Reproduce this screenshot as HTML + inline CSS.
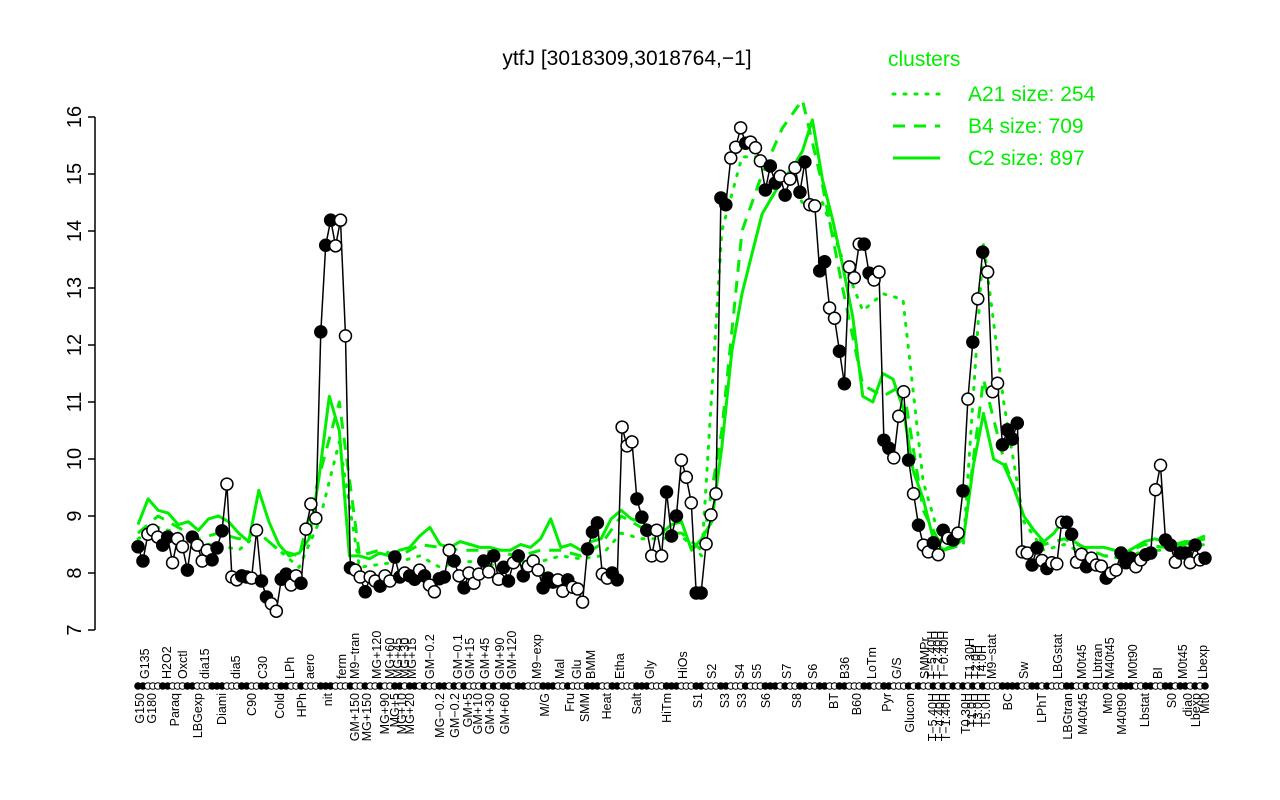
<!DOCTYPE html>
<html><head><meta charset="utf-8">
<style>
html,body{margin:0;padding:0;background:#fff;}
svg{display:block;font-family:"Liberation Sans",sans-serif;}
</style></head>
<body>
<svg id="chart" width="1280" height="800" viewBox="0 0 1280 800" xmlns="http://www.w3.org/2000/svg">
<text x="627" y="65" font-size="21" text-anchor="middle">ytfJ [3018309,3018764,−1]</text>
<g>
<text x="888" y="66" font-size="21" fill="#00ee00">clusters</text>
<line x1="893" y1="94" x2="940" y2="94" stroke="#00ee00" stroke-width="3" stroke-dasharray="2,9" stroke-linecap="round"/>
<text x="968" y="101" font-size="21" fill="#00ee00">A21 size: 254</text>
<line x1="893" y1="126" x2="940" y2="126" stroke="#00ee00" stroke-width="3" stroke-dasharray="12,9"/>
<text x="968" y="133" font-size="21" fill="#00ee00">B4 size: 709</text>
<line x1="893" y1="158" x2="940" y2="158" stroke="#00ee00" stroke-width="3"/>
<text x="968" y="165" font-size="21" fill="#00ee00">C2 size: 897</text>
</g>
<g id="yaxis"></g>
<g id="green"></g>
<g id="series"></g>
<g id="xaxis"></g>
</svg>
<script>
const yTicks = [7,8,9,10,11,12,13,14,15,16];
const geneValues = [8.46,8.21,8.68,8.75,8.63,8.49,8.63,8.18,8.6,8.46,8.05,8.63,8.49,8.21,8.4,8.23,8.44,8.74,9.56,7.93,7.88,7.95,7.93,7.91,8.75,7.86,7.58,7.46,7.33,7.89,7.98,7.79,7.95,7.82,8.77,9.21,8.96,12.23,13.75,14.19,13.74,14.19,12.16,8.09,8.05,7.93,7.67,7.93,7.86,7.77,7.95,7.86,8.28,7.93,8.0,7.95,7.89,8.05,7.95,7.79,7.67,7.9,7.93,8.4,8.21,7.95,7.74,8.0,7.82,7.98,8.21,8.02,8.3,7.89,8.1,7.86,8.18,8.3,7.95,8.12,8.21,8.05,7.74,
7.91,7.84,7.88,7.68,7.88,7.75,7.72,7.49,8.42,8.72,8.88,7.98,7.91,8.0,7.88,10.56,10.23,10.3,9.3,8.98,8.75,8.3,8.75,8.3,9.42,8.65,9.0,9.98,9.68,9.23,7.65,7.65,8.51,9.02,9.39,14.58,14.46,15.28,15.47,15.81,15.54,15.56,15.46,15.23,14.72,15.14,14.84,14.96,14.63,14.91,15.11,14.68,15.21,14.46,14.44,13.3,13.46,12.65,12.47,11.89,11.32,13.37,13.18,13.77,13.77,13.26,13.14,13.28,10.33,10.19,10.02,10.75,11.18,9.98,
9.39,8.84,8.49,8.37,8.53,8.32,8.75,8.61,8.58,8.7,9.44,11.05,12.05,12.81,13.63,13.28,11.18,11.33,10.25,10.51,10.35,10.63,8.37,8.35,8.14,8.44,8.22,8.08,8.18,8.16,8.89,8.89,8.68,8.19,8.33,8.11,8.26,8.14,8.12,7.91,8.0,8.05,8.35,8.18,8.26,8.11,8.23,8.32,8.35,9.46,9.89,8.58,8.49,8.19,8.35,8.35,8.18,8.49,8.23,8.26];
const geneFilled = [1,1,0,0,0,1,1,0,0,0,1,1,0,0,0,1,1,1,0,0,0,1,1,0,0,1,1,0,0,1,1,0,0,1,0,0,0,1,1,1,0,0,0,1,0,0,1,0,0,1,0,0,1,1,0,1,1,0,1,0,0,1,1,0,1,0,1,0,0,0,1,0,1,0,1,1,0,1,1,0,0,0,1,
1,1,0,0,1,0,0,0,1,1,1,0,0,1,1,0,0,0,1,1,1,0,0,0,1,1,1,0,0,0,1,1,0,0,0,1,1,0,0,0,1,0,0,0,1,1,1,0,1,0,0,1,1,0,0,1,1,0,0,1,1,0,0,0,1,1,0,0,1,1,0,0,0,1,
0,1,0,0,1,0,1,0,1,0,1,0,1,0,1,0,0,0,1,1,1,1,0,0,1,1,0,1,0,0,0,1,1,0,0,1,0,0,0,1,0,0,1,1,1,0,0,1,1,0,0,1,1,0,1,1,0,1,0,1];
const clusterC2 = [8.85,9.3,9.1,9.05,8.85,8.9,8.75,8.95,9.0,8.9,8.7,8.55,9.45,8.9,8.5,8.3,8.35,8.6,9.7,11.1,10.5,8.3,8.3,8.25,8.35,8.3,8.4,8.45,8.65,8.8,8.5,8.45,8.55,8.5,8.45,8.45,8.4,8.4,8.5,8.45,8.6,8.95,8.45,8.5,8.4,8.55,8.6,8.95,9.1,8.95,8.9,8.8,8.7,8.85,8.9,8.4,8.6,8.9,10.2,11.9,12.9,13.6,14.3,14.6,14.9,15.1,15.4,15.95,14.9,14.2,13.4,12.5,11.1,11.0,11.5,11.4,10.9,9.8,9.3,8.6,8.4,8.45,8.6,9.9,10.8,10.0,9.9,9.5,9.0,8.75,8.55,8.7,8.95,8.55,8.45,8.45,8.45,8.4,8.35,8.45,8.55,8.6,8.55,8.5,8.55,8.55,8.6];
const clusterB4 = [8.7,9.0,8.8,8.6,8.7,8.6,8.7,8.4,8.3,9.7,11.0,8.3,8.4,8.3,8.5,8.45,8.4,8.4,8.35,8.3,8.4,8.4,8.3,8.5,9.0,8.8,8.7,8.7,8.4,10.5,14.0,15.0,15.8,16.3,14.8,13.0,11.3,11.1,11.3,9.1,8.4,8.6,11.4,10.0,9.0,8.5,8.6,8.45,8.3,8.35,8.5,8.45,8.5,8.65];
const clusterA21 = [8.6,8.8,8.7,8.5,8.5,8.4,8.7,8.4,8.1,8.9,10.3,8.1,8.15,8.2,8.3,8.1,8.2,8.2,8.1,8.2,8.2,8.3,8.25,8.3,8.7,8.6,8.6,8.65,8.3,14.0,15.3,15.3,15.0,14.5,14.5,13.5,12.6,12.9,12.8,9.6,8.4,8.5,13.8,11.0,8.9,8.4,8.5,8.35,8.3,8.25,8.4,8.4,8.45,8.5];
const upperLabels = [["G135",145],["H2O2",167],["Oxctl",183],["dia15",205],["dia5",236],["C30",263],["LPh",290],["aero",310],["ferm",342],["M9−tran",355],["MG+120",377],["MG+60",390],["MG+45",398],["MG+30",405],["MG+15",412],["GM−0.2",430],["GM−0.1",458],["GM+15",470],["GM+45",485],["GM+90",500],["GM+120",512],["M9−exp",537],["Mal",560],["Glu",577],["BMM",591],["Etha",620],["Gly",650],["HiOs",683],["S2",712],["S4",740],["S5",757],["S7",787],["S6",813],["B36",845],["LoTm",872],["G/S",897],["SMMPr",925],["T−5.40H",932],["T−2.40H",938],["T−0.40H",944],["T1.30H",970],["T2.0H",976],["T4.0H",982],["M9−stat",992],["Sw",1024],["LBGstat",1058],["M0t45",1082],["Lbtran",1098],["M40t45",1110],["M0t90",1133],["BI",1158],["M0t45",1183],["Lbexp",1203]];
const lowerLabels = [["G150",140],["G180",152],["Paraq",175],["LBGexp",198],["Diami",222],["C90",252],["Cold",280],["HPh",302],["nit",328],["GM+150",355],["MG+150",367],["MG+90",385],["MG+5",395],["MG+10",402],["MG+20",410],["MG−0.2",440],["GM−0.2",455],["GM+5",468],["GM+10",478],["GM+30",490],["GM+60",505],["M/G",545],["Fru",570],["SMM",585],["Heat",607],["Salt",637],["HiTm",667],["S1",698],["S3",725],["S3",742],["S6",766],["S8",797],["BT",834],["B60",857],["Pyr",887],["Glucon",910],["T−5.40H",933],["T−4.40H",940],["T−1.40H",946],["T0.30H",966],["T1.0H",972],["T3.0H",978],["T5.0H",986],["BC",1008],["LPhT",1042],["LBGtran",1068],["M40t45",1083],["Mt0",1108],["M40t90",1122],["Lbstat",1145],["S0",1172],["dia0",1188],["Lbexp",1196],["Mt0",1205]];

const NS = "http://www.w3.org/2000/svg";
const X0 = 138, X1 = 1205;
function yScale(v){ return 630 - (v - 7) * 57; }
function xIndex(i, n){ return X0 + (X1 - X0) * i / (n - 1); }
function mk(tag, attrs, parent){ const e = document.createElementNS(NS, tag); for (const k in attrs) e.setAttribute(k, attrs[k]); parent.appendChild(e); return e; }

const ya = document.getElementById('yaxis');
const axLine = mk('line', {x1:95, y1:yScale(16), x2:95, y2:yScale(7), stroke:'#000', 'stroke-width':1.5}, ya);


yTicks.forEach(t => {
  const y = yScale(t);
  const tk = mk('line', {x1:88, y1:y, x2:95, y2:y, stroke:'#000', 'stroke-width':1.5}, ya);
  
  
  const tx = mk('text', {x:0, y:0, 'font-size':20, 'text-anchor':'middle', transform:`translate(81,${y}) rotate(-90)`}, ya);
  tx.textContent = t;
  
  
});

const gg = document.getElementById('green');
function drawCluster(vals, dash, name){
  const pts = vals.map((v,i) => xIndex(i, vals.length).toFixed(1) + ',' + yScale(v).toFixed(1)).join(' ');
  const attrs = {points:pts, fill:'none', stroke:'#00ee00', 'stroke-width':3, 'stroke-linejoin':'round'};
  if (dash) { attrs['stroke-dasharray'] = dash; }
  if (dash === '2,9') attrs['stroke-linecap'] = 'round';
  const p = mk('polyline', attrs, gg);
  
  
}
drawCluster(clusterA21, '2,9', 'cluster-a21-line');
drawCluster(clusterB4, '12,9', 'cluster-b4-line');
drawCluster(clusterC2, null, 'cluster-c2-line');

const sg = document.getElementById('series');
const n = geneValues.length;
const linePts = geneValues.map((v,i) => xIndex(i,n).toFixed(1) + ',' + yScale(v).toFixed(1)).join(' ');
const gl = mk('polyline', {points:linePts, fill:'none', stroke:'#000', 'stroke-width':1.5}, sg);


const xg = document.getElementById('xaxis');
geneValues.forEach((v,i) => {
  const f = geneFilled[i];
  const c = mk('circle', {cx:xIndex(i,n), cy:yScale(v), r:6, fill: f ? '#000' : '#fff', stroke:'#000', 'stroke-width':1.5}, sg);
  
  
  const m = mk('circle', {cx:xIndex(i,n), cy:686, r:3.3, fill: f ? '#000' : '#fff', stroke:'#000', 'stroke-width':1}, xg);
  
  
});
upperLabels.forEach(([t,x]) => {
  const e = mk('text', {x:0, y:0, 'font-size':12.5, 'text-anchor':'start', transform:`translate(${x+4},679) rotate(-90)`}, xg);
  e.textContent = t;
  
  
});
lowerLabels.forEach(([t,x]) => {
  const e = mk('text', {x:0, y:0, 'font-size':12.5, 'text-anchor':'end', transform:`translate(${x+4},693) rotate(-90)`}, xg);
  e.textContent = t;
  
  
});
</script>
</body></html>
